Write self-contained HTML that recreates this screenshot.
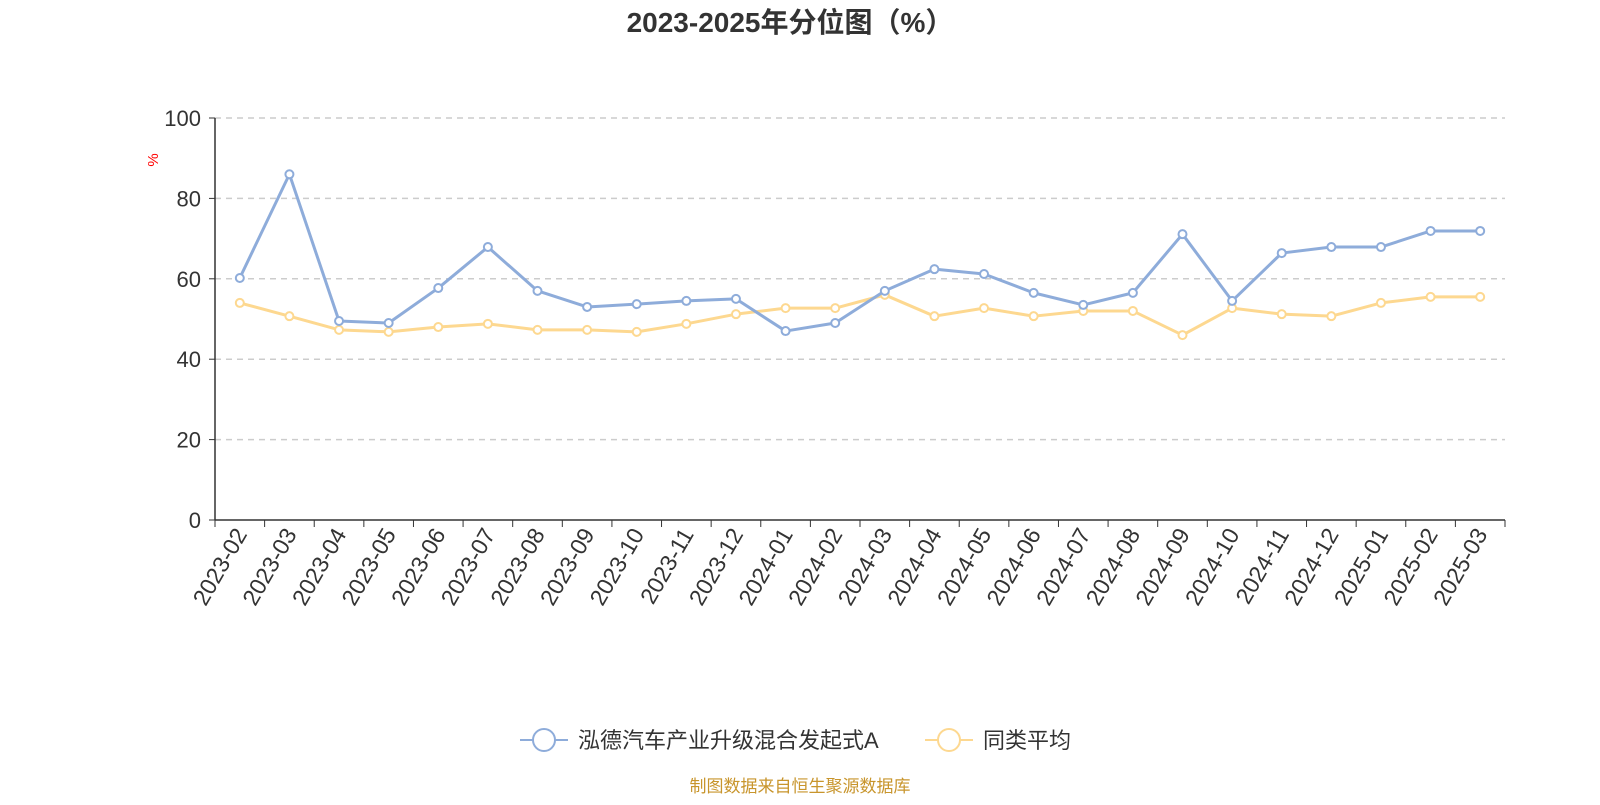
<!DOCTYPE html>
<html><head><meta charset="utf-8"><style>
body{margin:0;background:#fff;width:1600px;height:800px;overflow:hidden;font-family:"Liberation Sans","Noto Sans CJK SC",sans-serif}
</style></head><body>
<svg id="chart" width="1600" height="800" xmlns="http://www.w3.org/2000/svg" font-family="Liberation Sans, Noto Sans CJK SC, sans-serif">
<text x="790" y="32" text-anchor="middle" font-size="28" font-weight="bold" fill="#333">2023-2025年分位图（%）</text>
<text x="158" y="160" transform="rotate(-90 158 160)" text-anchor="middle" font-size="15" fill="#f00">%</text>
<g id="grid"></g><g id="axes"></g><g id="series"></g>
<g>
<g><line x1="520" y1="740" x2="568" y2="740" stroke="#8eacda" stroke-width="2"/><circle cx="544" cy="740" r="11" fill="#fff" stroke="#8eacda" stroke-width="2"/><text x="578" y="748" font-size="22" fill="#333">泓德汽车产业升级混合发起式A</text></g>
<g><line x1="925" y1="740" x2="973" y2="740" stroke="#fdd890" stroke-width="2"/><circle cx="949" cy="740" r="11" fill="#fff" stroke="#fdd890" stroke-width="2"/><text x="983" y="748" font-size="22" fill="#333">同类平均</text></g>
</g>
<text x="800" y="792" text-anchor="middle" font-size="17" fill="#c8952c">制图数据来自恒生聚源数据库</text>
</svg>
<script>
const categories=["2023-02","2023-03","2023-04","2023-05","2023-06","2023-07","2023-08","2023-09","2023-10","2023-11","2023-12","2024-01","2024-02","2024-03","2024-04","2024-05","2024-06","2024-07","2024-08","2024-09","2024-10","2024-11","2024-12","2025-01","2025-02","2025-03"];
const fundValues=[60.2,86,49.5,49,57.7,67.9,57,53,53.7,54.5,55,47,49,57,62.4,61.2,56.5,53.5,56.5,71.1,54.5,66.4,67.9,67.9,71.9,71.9];
const avgValues=[54,50.7,47.3,46.8,48,48.8,47.3,47.3,46.8,48.8,51.2,52.7,52.7,56,50.7,52.7,50.7,52,52,46,52.7,51.2,50.7,54,55.5,55.5];
const yTicks=[0,20,40,60,80,100];
const NS="http://www.w3.org/2000/svg";
const L=215,R=1505,T=118,B=520;
const bw=(R-L)/categories.length;
const xPos=i=>L+bw*(i+0.5);
const yPos=v=>B-(v/100)*(B-T);
function mk(tag,attrs,parent){const e=document.createElementNS(NS,tag);for(const k in attrs)e.setAttribute(k,attrs[k]);parent.appendChild(e);return e;}
const grid=document.getElementById('grid'),axes=document.getElementById('axes'),series=document.getElementById('series');
yTicks.forEach(t=>{
  const y=yPos(t);
  if(t>0){const g=mk('line',{x1:L,x2:R,y1:y,y2:y,stroke:'#ccc','stroke-dasharray':'6,5','stroke-width':1.5},grid);
  
  }
  mk('line',{x1:L-6,x2:L,y1:y,y2:y,stroke:'#333'},axes);
  const tx=mk('text',{x:L-14,y:y+8,'text-anchor':'end','font-size':22,fill:'#333'},axes);tx.textContent=t;
  
  
});
const ya=mk('line',{x1:L,x2:L,y1:T,y2:B,stroke:'#333','stroke-width':1.5},axes);


const xa=mk('line',{x1:L,x2:R,y1:B,y2:B,stroke:'#333','stroke-width':1.5},axes);


for(let i=0;i<=categories.length;i++){const x=L+bw*i;mk('line',{x1:x,x2:x,y1:B,y2:B+7,stroke:'#333'},axes);}
categories.forEach((c,i)=>{
  const x=xPos(i)+8,y=B+14;
  const tx=mk('text',{x:x,y:y,'text-anchor':'end','font-size':23,fill:'#333',transform:`rotate(-60 ${x} ${y})`},axes);tx.textContent=c;
  
  
});
function draw(vals,color,name){
  const g=mk('g',{},series);
  
  
  mk('polyline',{points:vals.map((v,i)=>xPos(i)+','+yPos(v)).join(' '),fill:'none',stroke:color,'stroke-width':3,'stroke-linejoin':'round'},g);
  vals.forEach((v,i)=>{const c=mk('circle',{cx:xPos(i),cy:yPos(v),r:4,fill:'#fff',stroke:color,'stroke-width':2},g);
  
  });
}
draw(avgValues,'#fdd890','average-series');
draw(fundValues,'#8eacda','fund-series');
</script>
</body></html>
